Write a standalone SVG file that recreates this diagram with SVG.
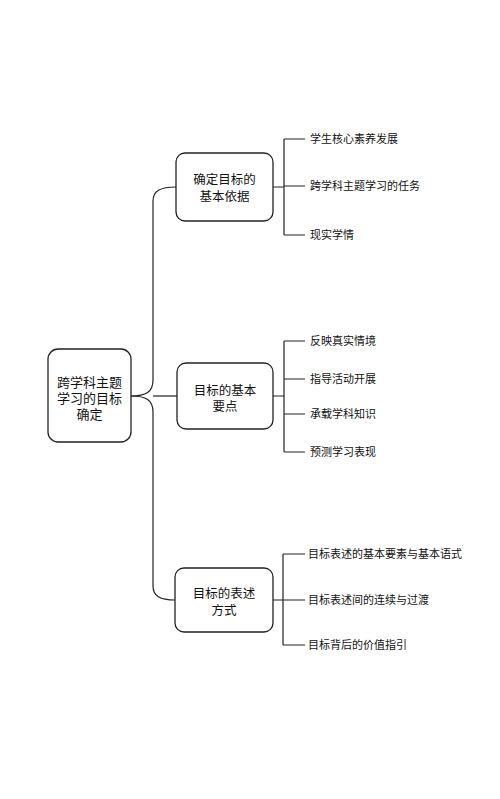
<svg xmlns="http://www.w3.org/2000/svg" width="500" height="799" viewBox="0 0 500 799">
<style>
.box{fill:#fff;stroke:#222;stroke-width:1.3}
.ln{fill:none;stroke:#222;stroke-width:1.2}
.t{font-family:"Noto Sans CJK SC","Liberation Sans",sans-serif;fill:#111;text-anchor:middle}
.n{font-size:12.5px}
.r{font-size:13px}
.l{font-family:"Noto Sans CJK SC","Liberation Sans",sans-serif;fill:#111;font-size:11px}
</style>
<rect width="500" height="799" fill="#fff"/>
<g id="connectors">
<path class="ln" d="M131,396 C146,396 153,392 153,380 L153,201 C153,191 160,187 176,187"/>
<path class="ln" d="M131,396 C146,396 153,400 153,412 L153,586 C153,596 160,600 175,600"/>
<path class="ln" d="M153,396 L177,396"/>
<path class="ln" d="M273,187 L284,187 M284,139 L284,235 M284,139 L305,139 M284,186 L305,186 M284,235 L305,235"/>
<path class="ln" d="M273,396 L284,396 M284,341 L284,452 M284,341 L305,341 M284,379 L305,379 M284,414 L305,414 M284,452 L305,452"/>
<path class="ln" d="M273,600 L283,600 M283,554 L283,645 M283,554 L305,554 M283,600 L305,600 M283,645 L305,645"/>
</g>
<g id="root">
<rect class="box" x="48" y="349" width="83" height="93" rx="10"/>
<text class="t r" x="89.5" y="387">跨学科主题</text>
<text class="t r" x="89.5" y="403">学习的目标</text>
<text class="t r" x="89.5" y="419">确定</text>
</g>
<g id="node1">
<rect class="box" x="176" y="153" width="97" height="68" rx="9"/>
<text class="t n" x="224.5" y="184">确定目标的</text>
<text class="t n" x="224.5" y="201">基本依据</text>
</g>
<g id="node2">
<rect class="box" x="177" y="363" width="96" height="66" rx="9"/>
<text class="t n" x="225" y="395">目标的基本</text>
<text class="t n" x="225" y="411">要点</text>
</g>
<g id="node3">
<rect class="box" x="175" y="568" width="98" height="64" rx="9"/>
<text class="t n" x="224" y="598">目标的表述</text>
<text class="t n" x="224" y="615">方式</text>
</g>
<g id="leaves1">
<text class="l" x="310" y="143">学生核心素养发展</text>
<text class="l" x="310" y="190">跨学科主题学习的任务</text>
<text class="l" x="310" y="239">现实学情</text>
</g>
<g id="leaves2">
<text class="l" x="310" y="345">反映真实情境</text>
<text class="l" x="310" y="383">指导活动开展</text>
<text class="l" x="310" y="418">承载学科知识</text>
<text class="l" x="310" y="456">预测学习表现</text>
</g>
<g id="leaves3">
<text class="l" x="308" y="558">目标表述的基本要素与基本语式</text>
<text class="l" x="308" y="604">目标表述间的连续与过渡</text>
<text class="l" x="308" y="649">目标背后的价值指引</text>
</g>
</svg>
